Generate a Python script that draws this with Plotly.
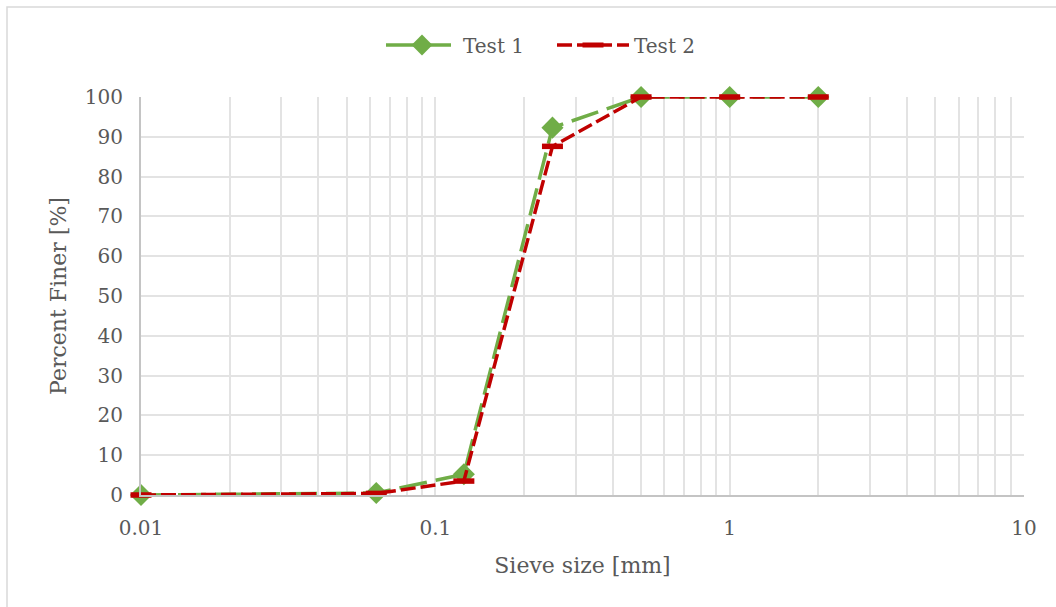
import plotly.graph_objects as go

# Sieve analysis results
sieve_mm = [0.01, 0.063, 0.125, 0.25, 0.5, 1, 2]
test1_finer = [0, 0.5, 5.2, 92.3, 100, 100, 100]
test2_finer = [0, 0.4, 3.5, 87.6, 100, 100, 100]

x_ticks = [0.01, 0.1, 1, 10]
x_tick_text = ["0.01", "0.1", "1", "10"]
y_ticks = list(range(0, 101, 10))

FONT = "DejaVu Serif"
TEXT = "#595959"
GRID = "#E3E3E3"
AXIS = "#C4C4C4"

minor_vals = [m * 10 ** e for e in (-2, -1, 0) for m in range(2, 10)]

fig = go.Figure()
fig.add_trace(go.Scatter(
    x=sieve_mm, y=test1_finer, name="Test 1", mode="lines+markers",
    line=dict(color="#70AD47", width=3.5, dash="28px,9px"),
    marker=dict(symbol="diamond", size=17, color="#70AD47"),
    cliponaxis=False,
))
fig.add_trace(go.Scatter(
    x=sieve_mm, y=test2_finer, name="Test 2", mode="lines+markers",
    line=dict(color="#C00000", width=3.5, dash="15px,5px"),
    marker=dict(symbol="line-ew", size=15, color="#C00000",
                line=dict(color="#C00000", width=5.5)),
    cliponaxis=False,
))

fig.update_layout(
    width=1056, height=607,
    margin=dict(l=141, r=32, t=97, b=112),
    paper_bgcolor="white", plot_bgcolor="white",
    font=dict(family=FONT, size=20, color=TEXT),
    legend=dict(orientation="h", xref="container", yref="container",
                x=552 / 1056, xanchor="center", y=1 - 45 / 607, yanchor="middle",
                itemwidth=72, entrywidth=84, entrywidthmode="pixels",
                font=dict(size=20, color=TEXT)),
    showlegend=True,
)

fig.update_xaxes(
    type="log", range=[-2, 1],
    tickvals=x_ticks, ticktext=x_tick_text,
    showgrid=True, gridcolor=GRID, gridwidth=1.5,
    minor=dict(tickvals=minor_vals, showgrid=True, gridcolor=GRID, gridwidth=1.5),
    showline=True, linecolor=AXIS, linewidth=2,
    ticks="", ticklabelstandoff=14,
    zeroline=False,
    title=dict(text="Sieve size [mm]", font=dict(size=22, color=TEXT), standoff=19),
)
fig.update_yaxes(
    range=[0, 100], tickvals=y_ticks,
    showgrid=True, gridcolor=GRID, gridwidth=1.5,
    showline=True, linecolor=AXIS, linewidth=2,
    ticks="", ticklabelstandoff=12,
    zeroline=False,
    title=dict(text="Percent Finer [%]", font=dict(size=22, color=TEXT), standoff=12),
)

# Chart frame
fig.add_shape(type="rect", xref="paper", yref="paper",
              x0=-134 / 883, x1=1.2, y0=-0.5, y1=(607 - 7 - 112) / 398,
              line=dict(color="#D9D9D9", width=1.5), layer="below")

fig.write_html("out.html")
